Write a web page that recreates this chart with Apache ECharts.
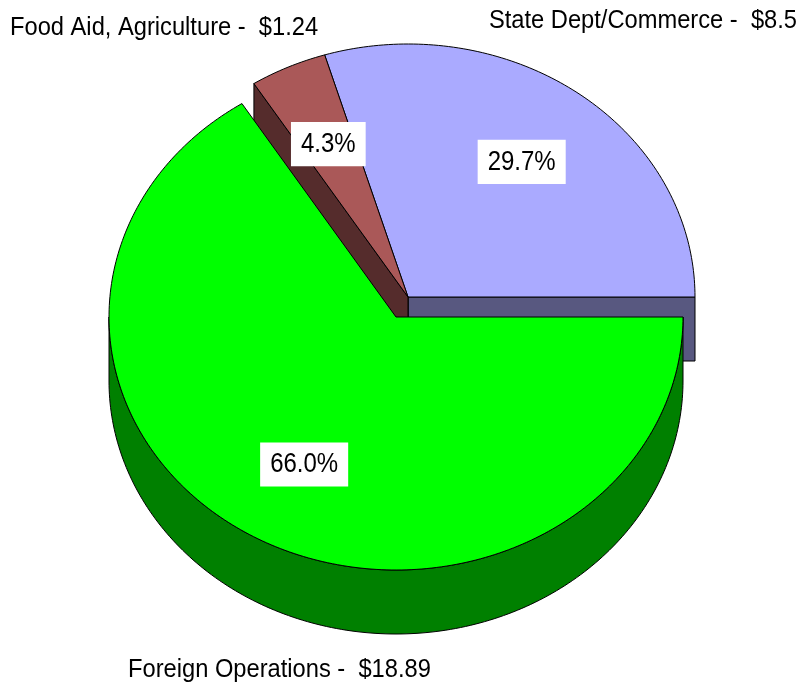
<!DOCTYPE html>
<html>
<head>
<meta charset="utf-8">
<script src="https://cdn.jsdelivr.net/npm/echarts@6/dist/echarts.min.js"></script>
<style>
html, body { margin: 0; padding: 0; background: #fff; }
#chart { width: 804px; height: 687px; }
</style>
</head>
<body>
<div id="chart"></div>
<script>
// slices, counter-clockwise from 3 o'clock
var names = ['State Dept/Commerce', 'Food Aid, Agriculture', 'Foreign Operations'];
var values = [8.5, 1.24, 18.89];

var topColors = ['#AAAAFF', '#AA5858', '#00FF00'];
var sideColors = ['#585880', '#552C2C', '#008000'];

// layout of the tilted pie
var pie = { cx: 396, cy: 317, rx: 287, ry: 253, depth: 64, labelR: 0.665 };
var shifts = [[12, -20], [12, -20], [0, 0]];          // exploded pair
var outerPos = [[797, 21, 'right'], [10, 28, 'left'], [128, 670, 'left']];

var total = values.reduce(function (a, b) { return a + b; }, 0);
var RAD = Math.PI / 180;
var FONT = '"Liberation Sans", Arial, sans-serif';

function slice(i) {
    var start = 0;
    for (var k = 0; k < i; k++) start += values[k];
    return {
        a0: start / total * 360,
        a1: (start + values[i]) / total * 360,
        cx: pie.cx + shifts[i][0],
        cy: pie.cy + shifts[i][1]
    };
}

function pt(s, deg, dz, f) {
    f = f || 1;
    return [s.cx + pie.rx * f * Math.cos(deg * RAD), s.cy - pie.ry * f * Math.sin(deg * RAD) + (dz || 0)];
}

function arc(s, from, to, dz) {
    var pts = [];
    var n = Math.max(2, Math.ceil(Math.abs(to - from)));
    for (var j = 0; j <= n; j++) pts.push(pt(s, from + (to - from) * j / n, dz));
    return pts;
}

function renderSides(params, api) {
    var i = params.dataIndex;
    var s = slice(i);
    var d = pie.depth;
    var style = { fill: sideColors[i], stroke: '#000', lineWidth: 1 };
    var children = [];
    var c = [s.cx, s.cy], cd = [s.cx, s.cy + d];
    if (Math.cos(s.a0 * RAD) > 1e-6) {
        children.push({ type: 'polygon', shape: { points: [c, pt(s, s.a0), pt(s, s.a0, d), cd] }, style: style });
    }
    if (Math.cos(s.a1 * RAD) < -1e-6) {
        children.push({ type: 'polygon', shape: { points: [c, pt(s, s.a1), pt(s, s.a1, d), cd] }, style: style });
    }
    var lo = Math.max(s.a0, 180), hi = Math.min(s.a1, 360);
    if (hi > lo) {
        var pts = arc(s, lo, hi, 0).concat(arc(s, hi, lo, d));
        children.push({ type: 'polygon', shape: { points: pts }, style: style });
    }
    return { type: 'group', children: children };
}

function renderTops(params, api) {
    var i = params.dataIndex;
    var s = slice(i);
    var pts = [[s.cx, s.cy]].concat(arc(s, s.a0, s.a1, 0));
    return {
        type: 'polygon',
        shape: { points: pts },
        style: { fill: topColors[i], stroke: '#000', lineWidth: 1 }
    };
}

function renderLabels(params, api) {
    var i = params.dataIndex;
    var s = slice(i);
    var p = pt(s, (s.a0 + s.a1) / 2, 0, pie.labelR);
    var pct = (values[i] / total * 100).toFixed(1) + '%';
    var o = outerPos[i];
    return {
        type: 'group',
        children: [{
            type: 'text',
            x: p[0], y: p[1], scaleY: 1.16,
            style: {
                text: pct, font: '24px ' + FONT, fill: '#000',
                align: 'center', verticalAlign: 'middle',
                textAlign: 'center', textVerticalAlign: 'middle',
                backgroundColor: '#fff', padding: [7, 10]
            }
        }, {
            type: 'text',
            x: o[0], y: o[1], scaleY: 1.08,
            style: {
                text: names[i] + ' -  $' + values[i], font: '23.7px ' + FONT, fill: '#000',
                align: o[2], verticalAlign: 'middle',
                textAlign: o[2], textVerticalAlign: 'middle'
            }
        }]
    };
}

var chart = echarts.init(document.getElementById('chart'));
var data = values.map(function (v, i) { return { name: names[i], value: v }; });

chart.setOption({
    backgroundColor: '#fff',
    animation: false,
    series: [{
        type: 'custom', coordinateSystem: 'none', silent: true, z: 1,
        renderItem: renderSides, data: data
    }, {
        type: 'custom', coordinateSystem: 'none', silent: true, z: 2,
        renderItem: renderTops, data: data
    }, {
        type: 'custom', coordinateSystem: 'none', silent: true, z: 3,
        renderItem: renderLabels, data: data
    }]
});
</script>
</body>
</html>
